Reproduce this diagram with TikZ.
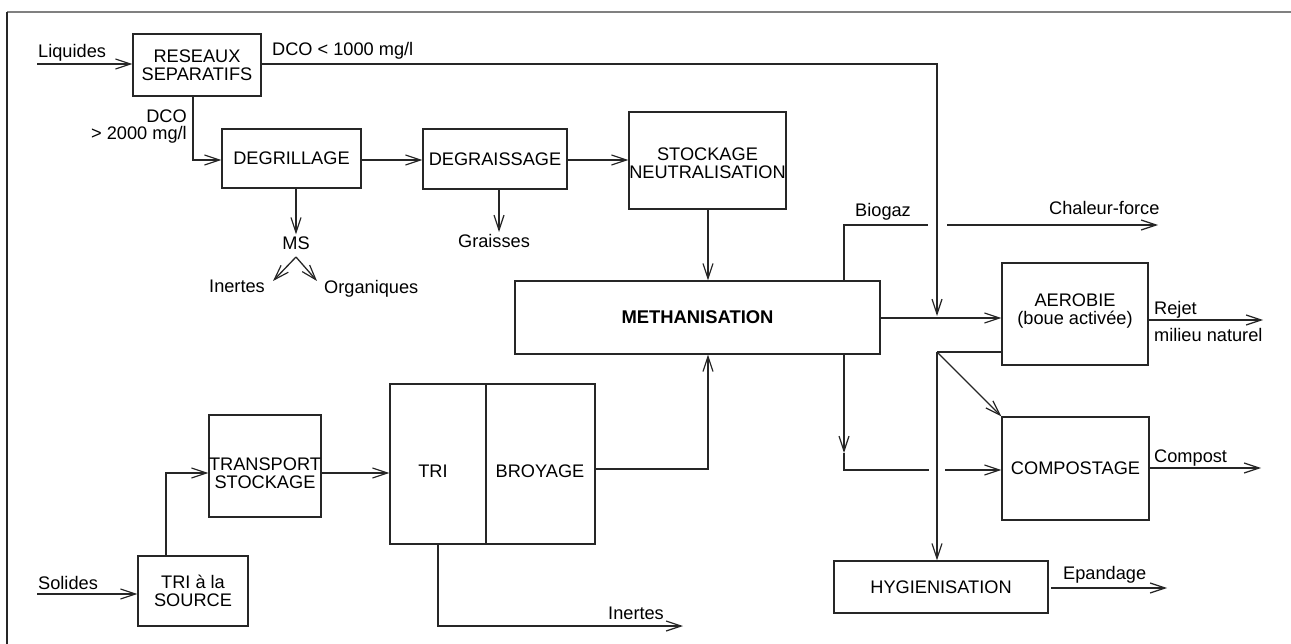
\documentclass[tikz,border=0pt]{standalone}
\usepackage{fontspec}
\setmainfont{Liberation Sans}
\usetikzlibrary{arrows.meta}
\tikzset{
  every node/.style={font=\fontsize{18.2}{18.5}\selectfont, inner sep=2pt},
  box/.style={draw=black!85, line width=1.3pt, align=center, inner sep=0pt},
  flow/.style={draw=black!85, line width=1.3pt},
  arr/.style={flow, -{Straight Barb[length=15pt,width=10pt,line width=1.2pt]}},
  lbl/.style={anchor=base west, inner sep=0pt},
  boxtext/.style={align=center, inner sep=0pt},
}
\begin{document}
\begin{tikzpicture}[x=1pt, y=-1pt]
\useasboundingbox (0,0) rectangle (1291,644);
% frame edges
\draw[gray, line width=2pt] (7,12) -- (1291,12);
\draw[black!85, line width=1.3pt] (7,12) -- (7,644);

% process boxes
\node[box, minimum width=128pt, minimum height=62pt] (res)   at (197,65)    {RESEAUX\\SEPARATIFS};
\node[box, minimum width=139pt, minimum height=59pt] (degr)  at (291.5,158.5) {DEGRILLAGE};
\node[box, minimum width=144pt, minimum height=60pt] (degra) at (495,159)   {DEGRAISSAGE};
\node[box, minimum width=157pt, minimum height=97pt] (stock) at (707.5,160.5) {};
\node[boxtext] (stockTxt) at (707.5,163) {STOCKAGE\\NEUTRALISATION};
\node[box, minimum width=365pt, minimum height=73pt, font=\fontsize{18.4}{18.5}\selectfont\bfseries] (meth) at (697.5,317.5) {METHANISATION};
\node[box, minimum width=146pt, minimum height=102pt] (aer)   at (1075,314)  {};
\node[boxtext] (aerTxt) at (1075,311) {AEROBIE\\(boue activée)};
\node[box, minimum width=147pt, minimum height=103pt] (comp)  at (1075.5,468.5) {COMPOSTAGE};
\node[box, minimum width=214pt, minimum height=52pt] (hyg)   at (941,587)   {HYGIENISATION};
\node[box, minimum width=110pt, minimum height=70pt] (src)   at (193,591)   {TRI à la\\SOURCE};
\node[box, minimum width=112pt, minimum height=102pt] (trans) at (265,466)  {};
\node[boxtext] (transTxt) at (265,473) {TRANSPORT\\STOCKAGE};
\node[box, minimum width=96pt,  minimum height=160pt] (tri)   at (438,464)  {};
\node[box, minimum width=109pt, minimum height=160pt] (broy)  at (540.5,464) {};
\node[boxtext] (triTxt)  at (433,471) {TRI};
\node[boxtext] (broyTxt) at (540,471) {BROYAGE};

% free labels
\node[lbl] (tLiq)  at (38,58)    {Liquides};
\node[lbl] (tDco1) at (272,56)   {DCO < 1000 mg/l};
\node[anchor=base east, inner sep=0pt] (tDco2) at (187,123) {DCO};
\node[anchor=base east, inner sep=0pt] (tDco3) at (187,140) {> 2000 mg/l};
\node (ms) at (296,243) {MS};
\node[lbl] (tIn1)  at (209,293)  {Inertes};
\node[lbl] (tOrg)  at (324,294)  {Organiques};
\node[anchor=base, inner sep=0pt] (tGr) at (494,248) {Graisses};
\node[lbl] (tBio)  at (855,217)  {Biogaz};
\node[lbl] (tCh)   at (1049,215) {Chaleur-force};
\node[lbl] (tRej)  at (1154,315) {Rejet};
\node[lbl] (tMil)  at (1154,342) {milieu naturel};
\node[lbl] (tCom)  at (1154,462) {Compost};
\node[lbl] (tEp)   at (1063,579) {Epandage};
\node[lbl] (tSol)  at (38,589)   {Solides};
\node[lbl] (tIn2)  at (608,619)  {Inertes};

% junction points and free ends
\coordinate (liqIn)  at (37,64);
\coordinate (dcoTop) at (937,64);
\coordinate (dcoEnd) at (937,316);
\coordinate (dcoBend) at (193,160);
\coordinate (fork)   at (296,257);
\coordinate (inEnd)  at (273,281);
\coordinate (orgEnd) at (317,281);
\coordinate (grEnd)  at (499,232);
\coordinate (bioTop) at (844,225);
\coordinate (bioGap) at (928,225);
\coordinate (chStart) at (947,225);
\coordinate (chEnd)  at (1158,225);
\coordinate (rejEnd) at (1263,320);
\coordinate (aerOut) at (937,352);
\coordinate (dnTip)  at (844,453);
\coordinate (dnBend) at (844,470);
\coordinate (cpGap)  at (929,470);
\coordinate (cpStart) at (945,470);
\coordinate (compEnd) at (1261,468);
\coordinate (epStart) at (1051,588);
\coordinate (epEnd)  at (1167,588);
\coordinate (byBend) at (708,469);
\coordinate (srcUp)  at (166,473);
\coordinate (solIn)  at (37,594);
\coordinate (inBend) at (438,626);
\coordinate (in2End) at (683,626);

% liquid line
\draw[arr] (liqIn) -- (liqIn -| res.west);
\draw[arr] (res.east |- liqIn) -- (dcoTop) -- (dcoEnd);
\draw[arr] (res.south -| dcoBend) -- (dcoBend) -- (dcoBend -| degr.west);
\draw[arr] (degr.east |- dcoBend) -- (dcoBend -| degra.west);
\draw[arr] (degra.east |- dcoBend) -- (dcoBend -| stock.west);
\draw[arr] (degr.south -| fork) -- (ms.north);
\draw[arr] (fork) -- (inEnd);
\draw[arr] (fork) -- (orgEnd);
\draw[arr] (degra.south -| grEnd) -- (grEnd);
\draw[arr] (stock.south -| byBend) -- (meth.north -| byBend);

% biogas
\draw[flow] (meth.north -| bioTop) -- (bioTop) -- (bioGap);
\draw[arr] (chStart) -- (chEnd);

% effluent and sludge
\draw[arr] (meth.east |- 0,318) -- (aer.west |- 0,318);
\draw[arr] (aer.east |- rejEnd) -- (rejEnd);
\draw[flow] (aer.west |- aerOut) -- (aerOut);
\draw[arr] (aerOut) -- (hyg.north -| aerOut);
\draw[arr] (aerOut) -- (comp.north west);
\draw[arr] (meth.south -| dnTip) -- (dnTip);
\draw[flow] (dnTip) -- (dnBend) -- (cpGap);
\draw[arr] (cpStart) -- (cpStart -| comp.west);
\draw[arr] (comp.east |- compEnd) -- (compEnd);
\draw[arr] (epStart) -- (epEnd);

% solid line
\draw[arr] (solIn) -- (solIn -| src.west);
\draw[arr] (src.north -| srcUp) -- (srcUp) -- (srcUp -| trans.west);
\draw[arr] (trans.east |- srcUp) -- (srcUp -| tri.west);
\draw[arr] (broy.east |- byBend) -- (byBend) -- (meth.south -| byBend);
\draw[arr] (tri.south -| inBend) -- (inBend) -- (in2End);
\end{tikzpicture}
\end{document}
